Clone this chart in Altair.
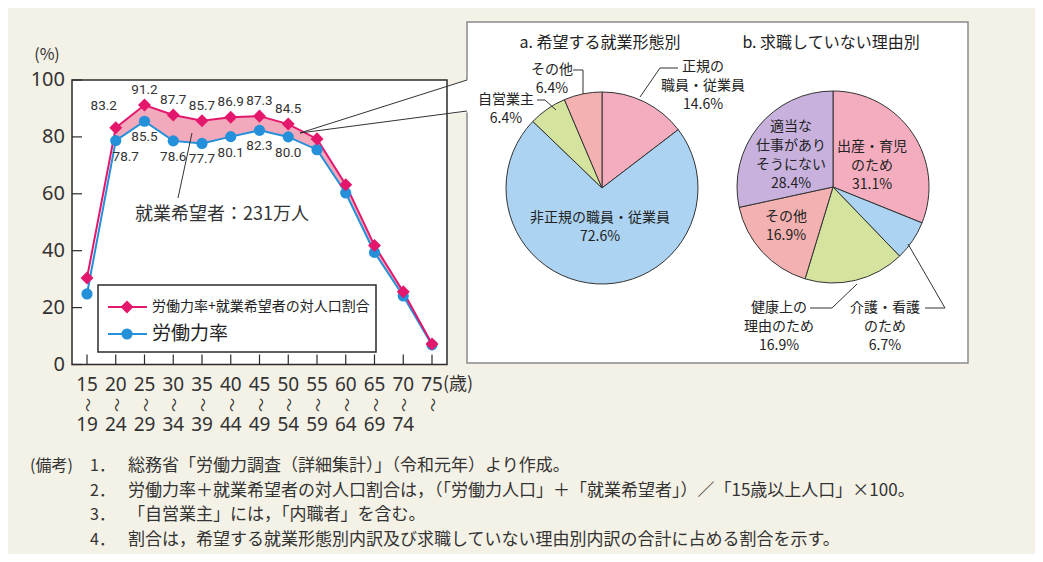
import altair as alt
import pandas as pd

# ------------------------------------------------------------------ data
age_from = ["15", "20", "25", "30", "35", "40", "45", "50", "55", "60", "65", "70", "75"]
age_to = ["19", "24", "29", "34", "39", "44", "49", "54", "59", "64", "69", "74", ""]
lfpr_plus = [30.4, 83.2, 91.2, 87.7, 85.7, 86.9, 87.3, 84.5, 79.3, 63.2, 41.8, 25.6, 7.2]
lfpr = [24.8, 78.7, 85.5, 78.6, 77.7, 80.1, 82.3, 80.0, 75.5, 60.3, 39.4, 24.1, 6.9]

pie_a_labels = ["正規の職員・従業員", "非正規の職員・従業員", "自営業主", "その他"]
pie_a_values = [14.6, 72.6, 6.4, 6.4]
pie_b_labels = ["出産・育児のため", "介護・看護のため", "健康上の理由のため", "その他", "適当な仕事がありそうにない"]
pie_b_values = [31.1, 6.7, 16.9, 16.9, 28.4]

y_ticks = [0, 20, 40, 60, 80, 100]

legend_labels = ["労働力率+就業希望者の対人口割合", "労働力率"]
annotation = "就業希望者：231万人"
title_a = "a. 希望する就業形態別"
title_b = "b. 求職していない理由別"
note_head = "(備考)"
note_nums = ["1．", "2．", "3．", "4．"]
note_lines = [
    "総務省「労働力調査（詳細集計）」（令和元年）より作成。",
    "労働力率＋就業希望者の対人口割合は，（「労働力人口」＋「就業希望者」）／「15歳以上人口」×100。",
    "「自営業主」には，「内職者」を含む。",
    "割合は，希望する就業形態別内訳及び求職していない理由別内訳の合計に占める割合を示す。",
]

# ------------------------------------------------------------------ style
BG = "#f4f1e6"
PINK = "#e3186d"
BLUE = "#2490d9"
SHADE = "#f2a9bb"
INK = "#2b2b2b"
JP = "Noto Sans CJK JP"
NUM = "Noto Sans"
pie_a_colors = ["#f4adbf", "#acd4f2", "#d4e49e", "#f3b2b1"]
pie_b_colors = ["#f4adbf", "#acd4f2", "#d4e49e", "#f3b2b1", "#c8b2dd"]

O = 8  # page margin


def P(v):
    return v - O


ages = [f"{a}〜{b}" for a, b in zip(age_from, age_to)]
df = pd.DataFrame({"age": ages, "a0": age_from, "a1": age_to, "plus": lfpr_plus, "lf": lfpr})
one = pd.DataFrame({"d": [0]})


def xs():
    return alt.X("age:N", scale=alt.Scale(type="point", domain=ages, range=[P(87), P(432)], padding=0), axis=None)


def ys(field):
    return alt.Y(field, scale=alt.Scale(domain=[0, 100], range=[P(364.5), P(80)], nice=False, zero=False), axis=None)


def px(f):
    return alt.X(f, scale=None, axis=None)


def py(f):
    return alt.Y(f, scale=None, axis=None)


layers = []

# pie panel + callout wedge
layers.append(alt.Chart(one).mark_rect(fill="white", stroke="#8a8a8a", strokeWidth=1.5).encode(
    x=alt.value(P(467)), x2=alt.value(P(968)), y=alt.value(P(22)), y2=alt.value(P(363))))
wedge = pd.DataFrame({"x": [P(300), P(470)], "y": [P(133), P(79)], "y2": [P(133), P(112)]})
layers.append(alt.Chart(wedge).mark_area(color="white").encode(x=px("x:Q"), y=py("y:Q"), y2="y2:Q"))

# plot frame
layers.append(alt.Chart(one).mark_rect(fill="white", stroke=INK, strokeWidth=1.5).encode(
    x=alt.value(P(72)), x2=alt.value(P(447)), y=alt.value(P(80)), y2=alt.value(P(364.5))))

# shaded gap
layers.append(alt.Chart(df.iloc[1:]).mark_area(color=SHADE).encode(x=xs(), y=ys("plus:Q"), y2="lf:Q"))

# ticks (inward)
yt = pd.DataFrame({"v": y_ticks})
layers.append(alt.Chart(yt).mark_rule(color=INK, strokeWidth=1.2).encode(
    y=ys("v:Q"), x=alt.value(P(72)), x2=alt.value(P(82))))
layers.append(alt.Chart(yt).mark_text(align="right", baseline="middle", font=NUM, fontSize=20, color="#333").encode(
    y=ys("v:Q"), x=alt.value(P(65)), text="v:Q"))
layers.append(alt.Chart(df).mark_rule(color=INK, strokeWidth=1.2).encode(
    x=xs(), y=alt.value(P(364.5)), y2=alt.value(P(354.5))))

# x labels
layers.append(alt.Chart(df).mark_text(baseline="middle", font=NUM, fontSize=19, color="#333").encode(
    x=xs(), y=alt.value(P(385)), text="a0:N"))
layers.append(alt.Chart(df).mark_text(baseline="middle", font=JP, fontSize=14, color="#333", angle=90, text="〜").encode(
    x=xs(), y=alt.value(P(405))))
layers.append(alt.Chart(df).mark_text(baseline="middle", font=NUM, fontSize=19, color="#333").encode(
    x=xs(), y=alt.value(P(425)), text="a1:N"))

# lines and markers
layers.append(alt.Chart(df).mark_line(color=BLUE, strokeWidth=2).encode(x=xs(), y=ys("lf:Q")))
layers.append(alt.Chart(df).mark_line(color=PINK, strokeWidth=2).encode(x=xs(), y=ys("plus:Q")))
layers.append(alt.Chart(df).mark_point(shape="circle", filled=True, size=125, color=BLUE, opacity=1).encode(
    x=xs(), y=ys("lf:Q")))
layers.append(alt.Chart(df).mark_point(shape="diamond", filled=True, size=170, color=PINK, opacity=1).encode(
    x=xs(), y=ys("plus:Q")))

# value labels
lab_style = dict(font="Roboto", fontSize=13.5, color="#333", baseline="middle")
layers.append(alt.Chart(df.iloc[2:8]).mark_text(dy=-15, **lab_style).encode(
    x=xs(), y=ys("plus:Q"), text=alt.Text("plus:Q", format=".1f")))
layers.append(alt.Chart(df.iloc[1:2]).mark_text(dx=-12, dy=-22, **lab_style).encode(
    x=xs(), y=ys("plus:Q"), text=alt.Text("plus:Q", format=".1f")))
layers.append(alt.Chart(df.iloc[2:8]).mark_text(dy=16, **lab_style).encode(
    x=xs(), y=ys("lf:Q"), text=alt.Text("lf:Q", format=".1f")))
layers.append(alt.Chart(df.iloc[1:2]).mark_text(dx=10, dy=16, **lab_style).encode(
    x=xs(), y=ys("lf:Q"), text=alt.Text("lf:Q", format=".1f")))

# pies
pa = pd.DataFrame({"cat": pie_a_labels, "v": pie_a_values, "k": range(len(pie_a_values))})
pb = pd.DataFrame({"cat": pie_b_labels, "v": pie_b_values, "k": range(len(pie_b_values))})
for d, cols, cx, cy in [(pa, pie_a_colors, 602, 188), (pb, pie_b_colors, 833, 187)]:
    layers.append(alt.Chart(d).mark_arc(radius=96, stroke="#333", strokeWidth=1).encode(
        theta=alt.Theta("v:Q", stack=True),
        color=alt.Color("cat:N", scale=alt.Scale(domain=list(d["cat"]), range=cols), legend=None),
        order=alt.Order("k:Q", sort="ascending"),
        x=alt.value(P(cx)), y=alt.value(P(cy))))

# leader / callout lines
segs = pd.DataFrame(
    [(300, 133, 467, 80), (300, 133, 467, 111), (192, 133, 178, 198),
     (678, 68, 660, 68), (660, 68, 640, 97),
     (573, 70, 583, 70), (583, 70, 583, 94),
     (537, 100, 545, 100), (545, 100, 556, 110),
     (810, 308, 832, 308), (832, 308, 857, 284),
     (925, 308, 945, 308), (945, 308, 908, 244)],
    columns=["x", "y", "x2", "y2"]) - O
layers.append(alt.Chart(segs).mark_rule(color="#333", strokeWidth=1).encode(
    x=px("x:Q"), y=py("y:Q"), x2="x2:Q", y2="y2:Q"))

# legend box
layers.append(alt.Chart(one).mark_rect(fill="white", stroke=INK, strokeWidth=1.5).encode(
    x=alt.value(P(98)), x2=alt.value(P(376)), y=alt.value(P(285)), y2=alt.value(P(352))))
for col, yy, shape, size in [(PINK, 307, "diamond", 170), (BLUE, 334, "circle", 125)]:
    layers.append(alt.Chart(one).mark_rule(color=col, strokeWidth=2).encode(
        x=alt.value(P(108)), x2=alt.value(P(147)), y=alt.value(P(yy))))
    layers.append(alt.Chart(one).mark_point(shape=shape, filled=True, size=size, color=col, opacity=1).encode(
        x=alt.value(P(127)), y=alt.value(P(yy))))


def texts(rows, **kw):
    t = pd.DataFrame(rows, columns=["x", "y", "t"])
    t["x"] = t["x"] - O
    t["y"] = t["y"] - O
    return alt.Chart(t).mark_text(baseline="middle", lineBreak="\n", **kw).encode(
        x=px("x:Q"), y=py("y:Q"), text="t:N")


layers.append(texts([(152, 307, legend_labels[0])], font=JP, fontSize=14, align="left", color="#222"))
layers.append(texts([(152, 334, legend_labels[1])], font=JP, fontSize=19, align="left", color="#222"))
layers.append(texts([(135, 215, annotation), (443, 385, "(歳)")], font=JP, fontSize=18, align="left", color="#333"))
layers.append(texts([(47, 55, "(%)")], font=JP, fontSize=16, align="center", color="#333"))
layers.append(texts([(600, 43, title_a), (831, 43, title_b)], font=JP, fontSize=16, align="center", color="#222"))

# multi-line labels: y is the first line's centre
pie_text = [
    (703, 67, "正規の\n職員・従業員\n14.6%"),
    (552, 70, "その他\n6.4%"),
    (506, 100, "自営業主\n6.4%"),
    (600, 218, "非正規の職員・従業員\n72.6%"),
    (791, 127, "適当な\n仕事があり\nそうにない\n28.4%"),
    (872, 147, "出産・育児\nのため\n31.1%"),
    (786, 217, "その他\n16.9%"),
    (779, 308, "健康上の\n理由のため\n16.9%"),
    (885, 308, "介護・看護\nのため\n6.7%"),
]
layers.append(texts(pie_text, font=JP, fontSize=14, align="center", color="#222", lineHeight=19))

# notes
note_y = [466, 491, 515, 540]
layers.append(texts([(30, 466, note_head)], font=JP, fontSize=16, align="left", color="#333"))
layers.append(texts([(90, y, n) for y, n in zip(note_y, note_nums)], font=JP, fontSize=16, align="left", color="#333"))
layers.append(texts([(128, y, s) for y, s in zip(note_y, note_lines)], font=JP, fontSize=17, align="left", color="#333"))

chart = alt.layer(*layers).resolve_scale(
    x="independent", y="independent", theta="independent", color="independent"
).properties(
    width=1027, height=546, padding=0, background=BG,
    autosize=alt.AutoSizeParams(type="none"),
).configure_view(strokeWidth=0)

chart.save("out.html", embed_options={"renderer": "svg", "actions": False})
